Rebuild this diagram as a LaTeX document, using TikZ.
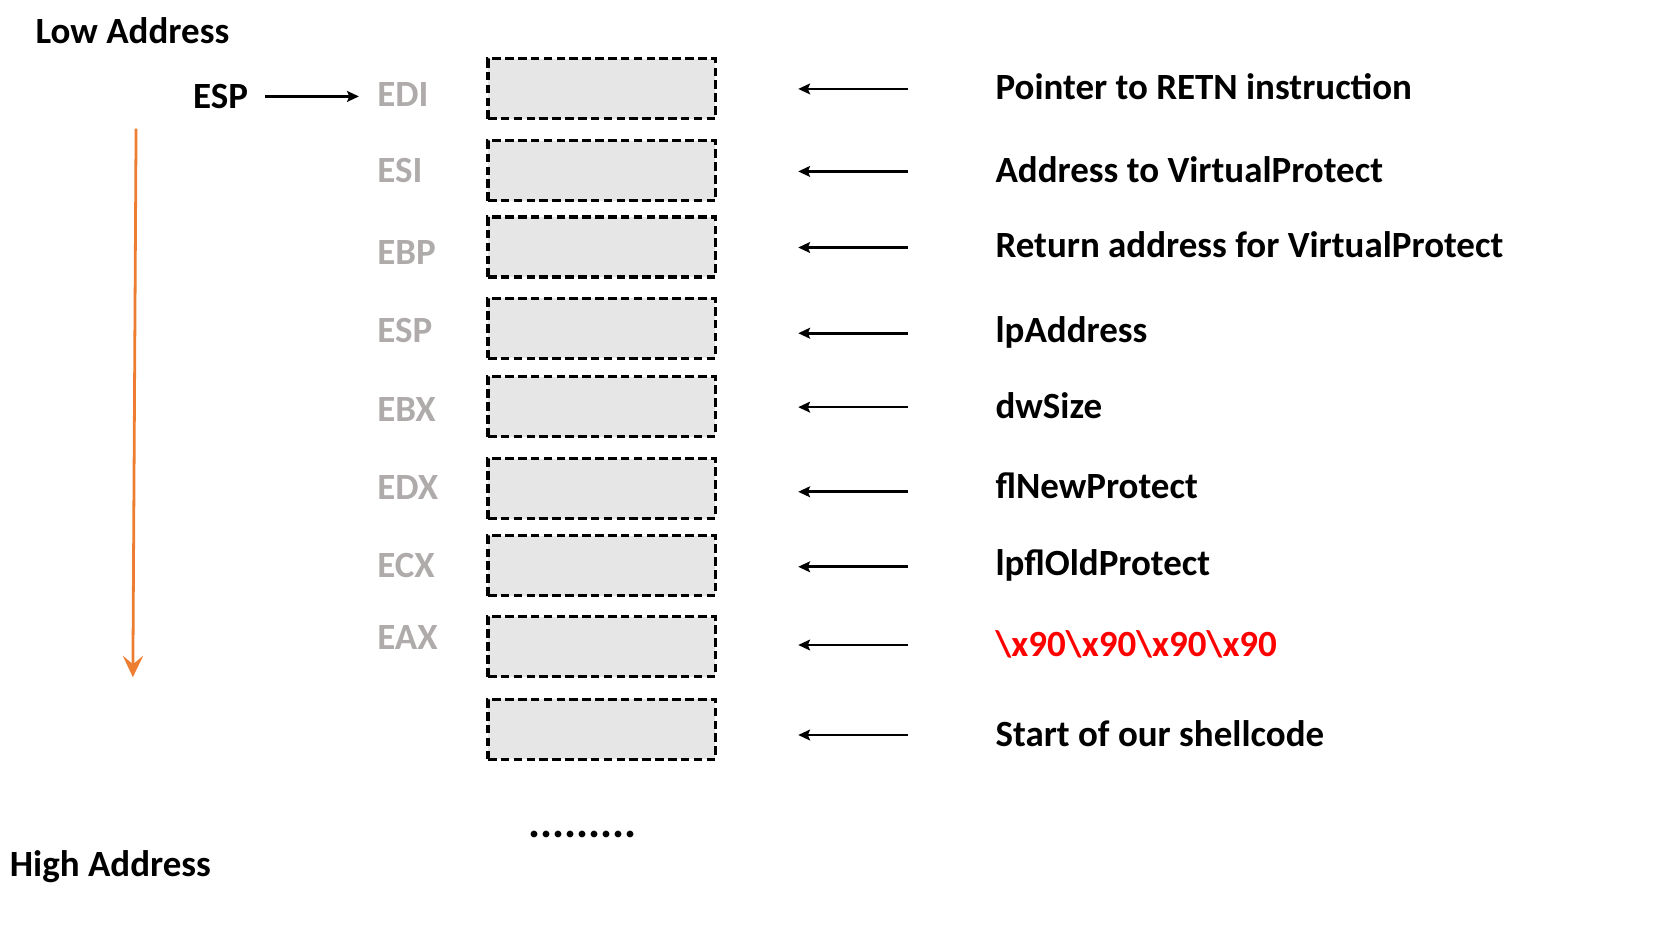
\documentclass[tikz,border=0pt]{standalone}
\usepackage{fontspec}
\setmainfont{Carlito}
\usetikzlibrary{arrows.meta}
\definecolor{reggray}{RGB}{175,171,171}
\definecolor{boxfill}{RGB}{230,230,230}
\definecolor{orangeA}{RGB}{237,125,49}
\definecolor{redtxt}{RGB}{255,0,0}
\begin{document}
\begin{tikzpicture}[x=1pt,y=-1pt,
  lbl/.style={font=\fontsize{34.5}{40}\selectfont\bfseries, inner sep=0pt, anchor=west},
  reg/.style={lbl, text=reggray},
  slot/.style={draw=black, fill=boxfill, dash pattern=on 8pt off 4pt, line width=2.9pt, minimum width=212pt, minimum height=56pt, inner sep=0pt},
  ptr/.style={line width=2.5pt, -{Stealth[length=11pt,width=10pt,inset=2pt]}},
]
\useasboundingbox (0,0) rectangle (1568,868);

% titles
\node[lbl] (low) at (33,29) {Low Address};
\node[lbl] (high) at (9,809) {High Address};

% orange direction arrow
\coordinate (otop) at (127,120);
\coordinate (obot) at (124,632);
\draw[orangeA, line width=2.6pt, -{Stealth[length=20pt,width=19pt,inset=8pt]}] (otop) -- (obot);

% ESP pointer
\node[lbl] (esp) at (180,90) {ESP};

% stack slots
\foreach \i/\y in {1/83,2/159.5,3/230.5,4/306.5,5/379.5,6/456,7/528,8/603.5,9/680.5}
  \node[slot] (b\i) at (561.5,\y) {};

% register labels
\foreach \i/\y/\t in {1/88/EDI,2/159/ESI,3/236/EBP,4/308/ESP,5/382/EBX,6/455/EDX,7/528/ECX,8/595/EAX}
  \node[reg] (r\i) at (352,\y) {\t};

\draw[ptr] ([xshift=16pt]esp.east) -- ([xshift=-17pt]esp.east -| r1.west);

% descriptions
\node[lbl] (d1) at (929,81) {Pointer to RETN instruction};
\node[lbl] (d2) at (929,158) {Address to VirtualProtect};
\node[lbl] (d3) at (929,228) {Return address for VirtualProtect};
\node[lbl] (d4) at (929,310) {lpAddress};
\node[lbl] (d5) at (929,379) {dwSize};
\node[lbl] (d6) at (929,453) {flNewProtect};
\node[lbl] (d7) at (929,528) {lpflOldProtect};
\node[lbl, text=redtxt] (d8) at (929,601) {\textbackslash x90\textbackslash x90\textbackslash x90\textbackslash x90};
\node[lbl] (d9) at (929,685) {Start of our shellcode};

% arrows from descriptions towards slots
\foreach \i/\y in {1/83,2/160,3/231,4/311,5/380,6/459,7/529,8/602,9/686} {
  \coordinate (as\i) at (847,\y);
  \coordinate (ae\i) at (745,\y);
  \draw[ptr] (as\i) -- (ae\i);
}

% continuation dots
\node[font=\fontsize{42}{48}\selectfont\bfseries, inner sep=0pt, anchor=west] (dots) at (493,779) {.........};
\end{tikzpicture}
\end{document}
